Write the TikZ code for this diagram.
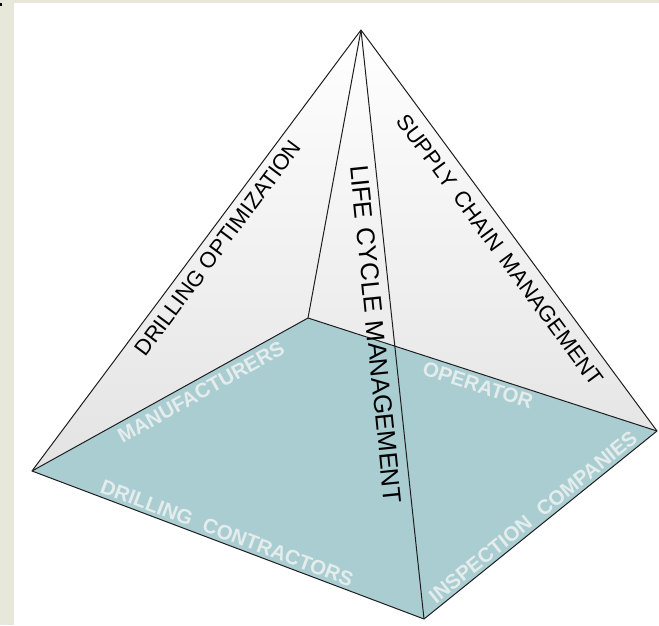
\documentclass[tikz,border=0pt]{standalone}
\usepackage{fontspec}
\setmainfont{Liberation Sans}
\definecolor{beige}{RGB}{232,232,218}
\definecolor{baseteal}{RGB}{170,205,210}
\definecolor{labelw}{RGB}{228,236,236}
\definecolor{edgec}{RGB}{30,30,30}
\begin{document}
\begin{tikzpicture}[x=1pt,y=-1pt,
  edge/.style={draw=edgec,line width=1pt,line join=round},
  toplabel/.style={inner sep=0pt,text=black,font=\fontsize{22}{26}\selectfont},
  baselabel/.style={inner sep=0pt,text=labelw,font=\fontsize{20.5}{24}\selectfont\bfseries}]
% background frame
\fill[beige] (0,0) rectangle (659,625);
\fill[white] (14,3) rectangle (659,625);
\fill[black] (0,3) rectangle (2,6);
\useasboundingbox (0,0) rectangle (659,625);
% corners
\coordinate (apex) at (361,30);
\coordinate (L) at (32,471);
\coordinate (B) at (308,318);
\coordinate (R) at (657,431);
\coordinate (F) at (424,619);
% back faces
\shade[top color=white,bottom color=black!11] (apex) -- (L) -- (B) -- (R) -- cycle;
% base
\fill[baseteal] (L) -- (B) -- (R) -- (F) -- cycle;
% edges
\draw[edge] (L) -- (B) -- (R);
\draw[edge] (apex) -- (B);
\draw[edge] (apex) -- (L) -- (F) -- (R) -- cycle;
\draw[edge] (apex) -- (F);
% labels on faces
\node[toplabel,rotate=53.3] (dopt) at (218,248) {DRILLING OPTIMIZATION};
\node[toplabel,rotate=-53.6] (scm) at (500,250) {SUPPLY\hspace{0.45em}CHAIN\hspace{0.45em}MANAGEMENT};
\node[toplabel,rotate=-84.2,font=\fontsize{25.5}{30}\selectfont] (lcm) at (376,334) {LIFE\hspace{0.35em}CYCLE\hspace{0.35em}MANAGEMENT};
% labels on base
\node[baselabel,rotate=29.0] (man) at (201,392) {MANUFACTURERS};
\node[baselabel,rotate=-17.9] (op) at (478,385) {OPERATOR};
\node[baselabel,rotate=-20.7] (dc) at (227,533) {DRILLING\hspace{0.6em}CONTRACTORS};
\node[baselabel,rotate=38.9] (ic) at (533,517) {INSPECTION\hspace{0.6em}COMPANIES};
\end{tikzpicture}
\end{document}
